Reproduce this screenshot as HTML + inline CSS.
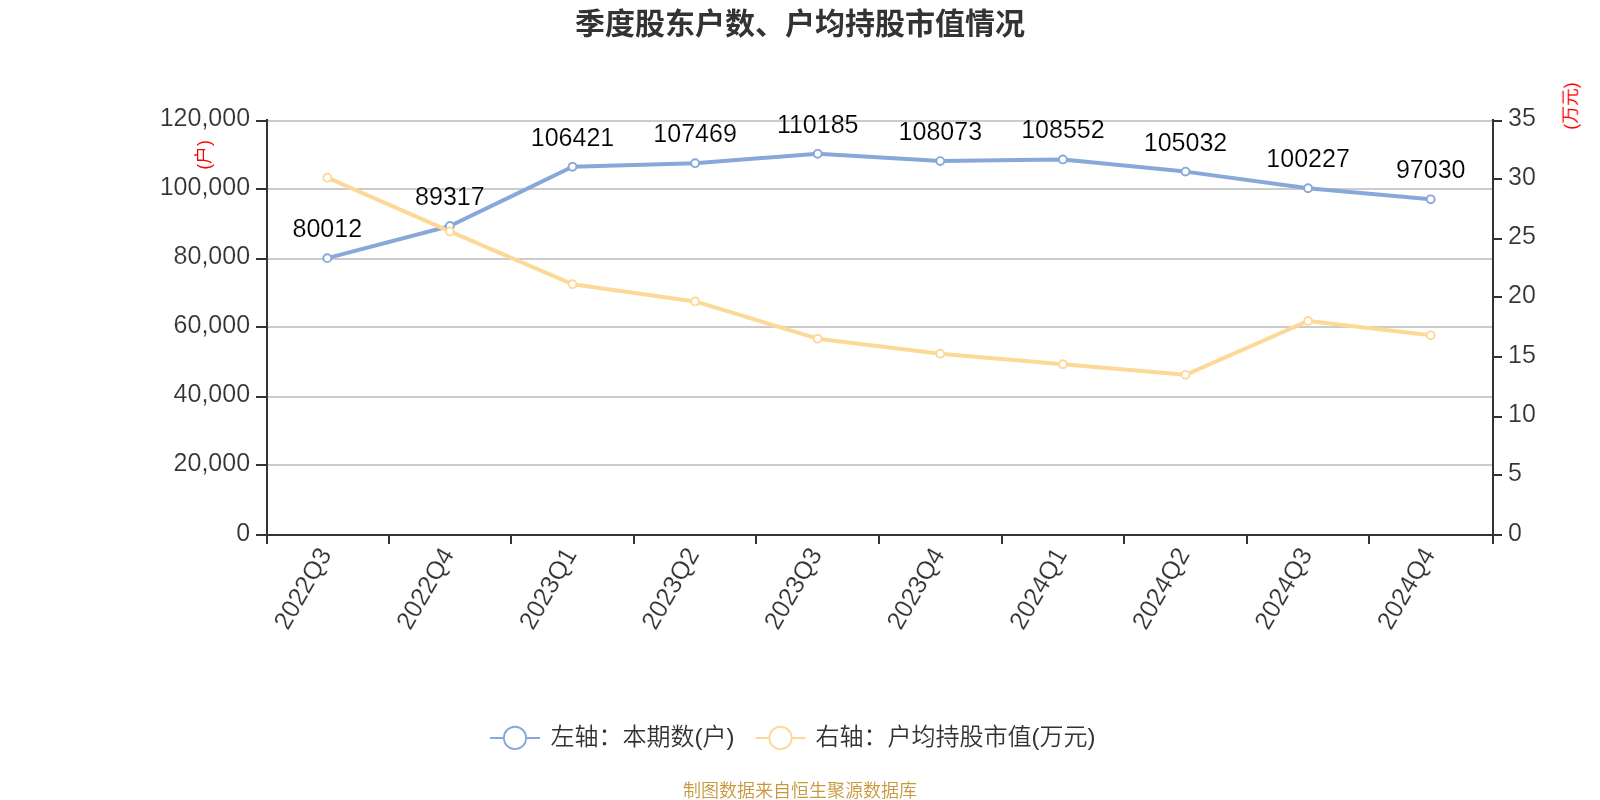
<!DOCTYPE html>
<html lang="zh-CN"><head><meta charset="utf-8"><title>季度股东户数、户均持股市值情况</title>
<style>html,body{margin:0;padding:0;background:#fff;}body{width:1600px;height:800px;overflow:hidden;}svg{display:block;}text{font-family:"Liberation Sans", "Noto Sans CJK SC", sans-serif;}</style>
</head><body>
<svg width="1600" height="800" viewBox="0 0 1600 800">
<rect x="0" y="0" width="1600" height="800" fill="#ffffff"/>
<g style="opacity:0.999">
<text x="800" y="33.5" text-anchor="middle" font-size="30" font-weight="bold" fill="#333333">季度股东户数、户均持股市值情况</text>
<g stroke="#cccccc" stroke-width="2" fill="none">
<line x1="267.0" y1="121" x2="1493.0" y2="121"/>
<line x1="267.0" y1="189" x2="1493.0" y2="189"/>
<line x1="267.0" y1="259" x2="1493.0" y2="259"/>
<line x1="267.0" y1="327" x2="1493.0" y2="327"/>
<line x1="267.0" y1="397" x2="1493.0" y2="397"/>
<line x1="267.0" y1="465" x2="1493.0" y2="465"/>
</g>
<g stroke="#333333" stroke-width="2" fill="none">
<line x1="267.0" y1="119" x2="267.0" y2="536"/>
<line x1="1493.0" y1="119" x2="1493.0" y2="536"/>
<line x1="266.0" y1="535" x2="1494.0" y2="535"/>
<line x1="256" y1="121" x2="267.0" y2="121"/>
<line x1="256" y1="189" x2="267.0" y2="189"/>
<line x1="256" y1="259" x2="267.0" y2="259"/>
<line x1="256" y1="327" x2="267.0" y2="327"/>
<line x1="256" y1="397" x2="267.0" y2="397"/>
<line x1="256" y1="465" x2="267.0" y2="465"/>
<line x1="256" y1="535" x2="267.0" y2="535"/>
<line x1="1493.0" y1="535" x2="1502" y2="535"/>
<line x1="1493.0" y1="475" x2="1502" y2="475"/>
<line x1="1493.0" y1="417" x2="1502" y2="417"/>
<line x1="1493.0" y1="357" x2="1502" y2="357"/>
<line x1="1493.0" y1="297" x2="1502" y2="297"/>
<line x1="1493.0" y1="239" x2="1502" y2="239"/>
<line x1="1493.0" y1="179" x2="1502" y2="179"/>
<line x1="1493.0" y1="121" x2="1502" y2="121"/>
<line x1="267" y1="535" x2="267" y2="544"/>
<line x1="389" y1="535" x2="389" y2="544"/>
<line x1="511" y1="535" x2="511" y2="544"/>
<line x1="634" y1="535" x2="634" y2="544"/>
<line x1="756" y1="535" x2="756" y2="544"/>
<line x1="879" y1="535" x2="879" y2="544"/>
<line x1="1002" y1="535" x2="1002" y2="544"/>
<line x1="1124" y1="535" x2="1124" y2="544"/>
<line x1="1247" y1="535" x2="1247" y2="544"/>
<line x1="1369" y1="535" x2="1369" y2="544"/>
<line x1="1493" y1="535" x2="1493" y2="544"/>
</g>
<g font-size="25.6" fill="#333333" stroke="#ffffff" stroke-width="0.18">
<text transform="translate(250.10,125.50) scale(0.978,1)" text-anchor="end">120,000</text>
<text transform="translate(250.10,194.67) scale(0.978,1)" text-anchor="end">100,000</text>
<text transform="translate(250.10,263.83) scale(0.978,1)" text-anchor="end">80,000</text>
<text transform="translate(250.10,333.00) scale(0.978,1)" text-anchor="end">60,000</text>
<text transform="translate(250.10,402.17) scale(0.978,1)" text-anchor="end">40,000</text>
<text transform="translate(250.10,471.33) scale(0.978,1)" text-anchor="end">20,000</text>
<text transform="translate(250.10,540.50) scale(0.978,1)" text-anchor="end">0</text>
<text transform="translate(1508.00,540.50) scale(0.978,1)" text-anchor="start">0</text>
<text transform="translate(1508.00,481.21) scale(0.978,1)" text-anchor="start">5</text>
<text transform="translate(1508.00,421.93) scale(0.978,1)" text-anchor="start">10</text>
<text transform="translate(1508.00,362.64) scale(0.978,1)" text-anchor="start">15</text>
<text transform="translate(1508.00,303.36) scale(0.978,1)" text-anchor="start">20</text>
<text transform="translate(1508.00,244.07) scale(0.978,1)" text-anchor="start">25</text>
<text transform="translate(1508.00,184.79) scale(0.978,1)" text-anchor="start">30</text>
<text transform="translate(1508.00,125.50) scale(0.978,1)" text-anchor="start">35</text>
</g>
<text transform="translate(209.8,155) rotate(-90)" text-anchor="middle" font-size="17.8" fill="#ff0000">(户)</text>
<text transform="translate(1576.7,106) rotate(-90)" text-anchor="middle" font-size="17.8" fill="#ff0000">(万元)</text>
<g font-size="25.6" fill="#333333" stroke="#ffffff" stroke-width="0.18">
<text transform="translate(324.60,549.7) rotate(-60) scale(0.978,1)" text-anchor="end" x="0" y="8.8">2022Q3</text>
<text transform="translate(447.20,549.7) rotate(-60) scale(0.978,1)" text-anchor="end" x="0" y="8.8">2022Q4</text>
<text transform="translate(569.80,549.7) rotate(-60) scale(0.978,1)" text-anchor="end" x="0" y="8.8">2023Q1</text>
<text transform="translate(692.40,549.7) rotate(-60) scale(0.978,1)" text-anchor="end" x="0" y="8.8">2023Q2</text>
<text transform="translate(815.00,549.7) rotate(-60) scale(0.978,1)" text-anchor="end" x="0" y="8.8">2023Q3</text>
<text transform="translate(937.60,549.7) rotate(-60) scale(0.978,1)" text-anchor="end" x="0" y="8.8">2023Q4</text>
<text transform="translate(1060.20,549.7) rotate(-60) scale(0.978,1)" text-anchor="end" x="0" y="8.8">2024Q1</text>
<text transform="translate(1182.80,549.7) rotate(-60) scale(0.978,1)" text-anchor="end" x="0" y="8.8">2024Q2</text>
<text transform="translate(1305.40,549.7) rotate(-60) scale(0.978,1)" text-anchor="end" x="0" y="8.8">2024Q3</text>
<text transform="translate(1428.00,549.7) rotate(-60) scale(0.978,1)" text-anchor="end" x="0" y="8.8">2024Q4</text>
</g>
<polyline points="327.30,258.14 449.90,225.96 572.50,166.81 695.10,163.19 817.70,153.79 940.30,161.10 1062.90,159.44 1185.50,171.61 1308.10,188.23 1430.70,199.29" fill="none" stroke="#87a8d8" stroke-width="4" stroke-linejoin="bevel"/>
<polyline points="327.30,177.70 449.90,231.45 572.50,284.20 695.10,301.45 817.70,338.70 940.30,353.70 1062.90,364.20 1185.50,374.80 1308.10,320.95 1430.70,335.30" fill="none" stroke="#fdd998" stroke-width="4" stroke-linejoin="bevel"/>
<g fill="#ffffff" stroke="#87a8d8" stroke-width="1.9">
<circle cx="327.30" cy="258.14" r="3.95"/>
<circle cx="449.90" cy="225.96" r="3.95"/>
<circle cx="572.50" cy="166.81" r="3.95"/>
<circle cx="695.10" cy="163.19" r="3.95"/>
<circle cx="817.70" cy="153.79" r="3.95"/>
<circle cx="940.30" cy="161.10" r="3.95"/>
<circle cx="1062.90" cy="159.44" r="3.95"/>
<circle cx="1185.50" cy="171.61" r="3.95"/>
<circle cx="1308.10" cy="188.23" r="3.95"/>
<circle cx="1430.70" cy="199.29" r="3.95"/>
</g>
<g fill="#ffffff" stroke="#fdd998" stroke-width="1.9">
<circle cx="327.30" cy="177.70" r="3.95"/>
<circle cx="449.90" cy="231.45" r="3.95"/>
<circle cx="572.50" cy="284.20" r="3.95"/>
<circle cx="695.10" cy="301.45" r="3.95"/>
<circle cx="817.70" cy="338.70" r="3.95"/>
<circle cx="940.30" cy="353.70" r="3.95"/>
<circle cx="1062.90" cy="364.20" r="3.95"/>
<circle cx="1185.50" cy="374.80" r="3.95"/>
<circle cx="1308.10" cy="320.95" r="3.95"/>
<circle cx="1430.70" cy="335.30" r="3.95"/>
</g>
<g font-size="25.6" fill="#000000" stroke="#ffffff" stroke-width="0.18">
<text transform="translate(327.30,237.14) scale(0.978,1)" text-anchor="middle">80012</text>
<text transform="translate(449.90,204.96) scale(0.978,1)" text-anchor="middle">89317</text>
<text transform="translate(572.50,145.81) scale(0.978,1)" text-anchor="middle">106421</text>
<text transform="translate(695.10,142.19) scale(0.978,1)" text-anchor="middle">107469</text>
<text transform="translate(817.70,132.79) scale(0.978,1)" text-anchor="middle">110185</text>
<text transform="translate(940.30,140.10) scale(0.978,1)" text-anchor="middle">108073</text>
<text transform="translate(1062.90,138.44) scale(0.978,1)" text-anchor="middle">108552</text>
<text transform="translate(1185.50,150.61) scale(0.978,1)" text-anchor="middle">105032</text>
<text transform="translate(1308.10,167.23) scale(0.978,1)" text-anchor="middle">100227</text>
<text transform="translate(1430.70,178.29) scale(0.978,1)" text-anchor="middle">97030</text>
</g>
<line x1="490" y1="738" x2="540" y2="738" stroke="#87a8d8" stroke-width="2"/>
<circle cx="515" cy="737.9" r="11.15" fill="#ffffff" stroke="#87a8d8" stroke-width="1.85"/>
<text x="550.5" y="744.7" font-size="24" font-weight="350" fill="#333333">左轴：本期数(户)</text>
<line x1="755.5" y1="738" x2="805.5" y2="738" stroke="#fdd998" stroke-width="2"/>
<circle cx="780.5" cy="737.9" r="11.15" fill="#ffffff" stroke="#fdd998" stroke-width="1.85"/>
<text x="815.5" y="744.7" font-size="24" font-weight="350" fill="#333333">右轴：户均持股市值(万元)</text>
<text x="800" y="797" text-anchor="middle" font-size="18" font-weight="350" fill="#c8983c">制图数据来自恒生聚源数据库</text>
</g>
</svg>
</body></html>
